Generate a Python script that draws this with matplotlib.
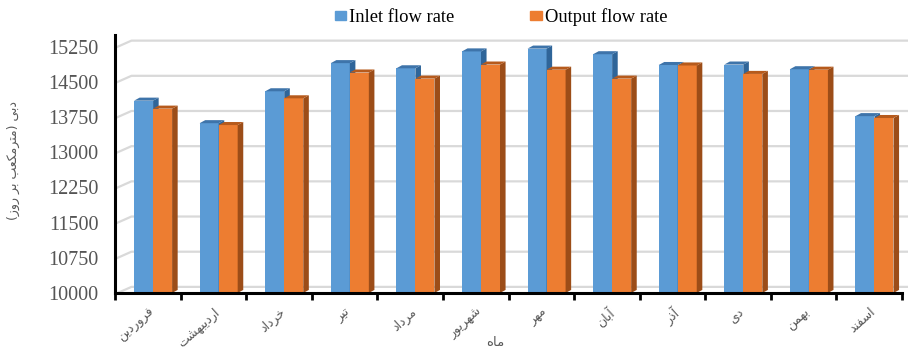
import numpy as np
import matplotlib.pyplot as plt
from matplotlib.patches import Polygon, Patch
from matplotlib.transforms import ScaledTranslation

# monthly flow (m3/day), Persian calendar months
months = ['فروردین', 'اردیبهشت', 'خرداد', 'تیر', 'مرداد', 'شهریور',
          'مهر', 'آبان', 'آذر', 'دی', 'بهمن', 'اسفند']
inlet = [14100, 13620, 14300, 14900, 14790, 15150, 15210, 15090, 14860, 14870, 14770, 13770]
output = [13930, 13580, 14150, 14700, 14570, 14870, 14760, 14570, 14850, 14670, 14760, 13730]
yticks = np.arange(10000, 15251, 750)
ylabel = 'دبی (مترمکعب بر روز)'
xlabel = 'ماه'

# contextual forms for the letters used (isolated, final[, initial, medial])
FORMS = {
    'ا': '\uFE8D\uFE8E', 'آ': '\uFE81\uFE82', 'د': '\uFEA9\uFEAA', 'ذ': '\uFEAB\uFEAC',
    'ر': '\uFEAD\uFEAE', 'ز': '\uFEAF\uFEB0', 'و': '\uFEED\uFEEE',
    'ب': '\uFE8F\uFE90\uFE91\uFE92', 'ت': '\uFE95\uFE96\uFE97\uFE98',
    'خ': '\uFEA5\uFEA6\uFEA7\uFEA8', 'س': '\uFEB1\uFEB2\uFEB3\uFEB4',
    'ش': '\uFEB5\uFEB6\uFEB7\uFEB8', 'ع': '\uFEC9\uFECA\uFECB\uFECC',
    'ف': '\uFED1\uFED2\uFED3\uFED4', 'م': '\uFEE1\uFEE2\uFEE3\uFEE4',
    'ن': '\uFEE5\uFEE6\uFEE7\uFEE8', 'ه': '\uFEE9\uFEEA\uFEEB\uFEEC',
    'ی': '\uFBFC\uFBFD\uFBFE\uFBFF', 'ک': '\uFB8E\uFB8F\uFB90\uFB91',
}


def shape(text):
    # join letters and lay the string out right-to-left
    out = []
    for i, ch in enumerate(text):
        f = FORMS.get(ch)
        if f is None:
            out.append({'(': ')', ')': '('}.get(ch, ch))
            continue
        prev = text[i - 1] if i > 0 else ''
        nxt = text[i + 1] if i + 1 < len(text) else ''
        jp = len(FORMS.get(prev, '')) == 4
        jn = len(f) == 4 and nxt in FORMS
        out.append(f[[[0, 2], [1, 3]][jp][jn]])
    return ''.join(reversed(out))


BASE = 10000
DX, DY = 0.085, 65     # depth offset of the 3d faces
W = 0.29

fig = plt.figure(figsize=(9.08, 3.49), dpi=100)
ax = fig.add_axes([0.1267, 0.1605, 0.8667, 0.7392])
ax.set_xlim(-0.5, 11.5)
ax.set_ylim(BASE, 15500)

# back wall gridlines with the slanted part on the side wall
for v in yticks:
    ax.plot([-0.46, -0.25, 11.6], [v, v + 130, v + 130], color='#d9d9d9',
            lw=1.6, zorder=0.5, clip_on=False)

x = np.arange(len(months))


def bars3d(xpos, vals, front, side, top):
    rects = ax.bar(xpos, np.array(vals) - BASE, bottom=BASE, width=W, align='edge',
                   color=front, zorder=1)
    for r in rects:
        x0, w, h = r.get_x(), r.get_width(), r.get_y() + r.get_height()
        ax.add_patch(Polygon([(x0 + w, BASE), (x0 + w + DX, BASE + DY),
                              (x0 + w + DX, h + DY), (x0 + w, h)],
                             closed=True, fc=side, ec='none', zorder=1))
        ax.add_patch(Polygon([(x0, h), (x0 + DX, h + DY), (x0 + w + DX, h + DY),
                              (x0 + w, h)], closed=True, fc=top, ec='none', zorder=1))


bars3d(x - 0.21, inlet, '#5b9bd5', '#2f6599', '#3e74aa')
bars3d(x + 0.08, output, '#ed7d31', '#9c4d18', '#b65a1c')

for s in ['top', 'right']:
    ax.spines[s].set_visible(False)
for s in ['left', 'bottom']:
    ax.spines[s].set_linewidth(2.2)
    ax.spines[s].set_color('black')

ax.set_yticks(yticks)
ax.set_yticklabels([str(v) for v in yticks], fontfamily='Liberation Serif',
                   fontsize=14.5, color='#555555')
ax.tick_params(axis='y', length=0, pad=12)

ax.set_xticks(x)
ax.set_xticklabels([shape(m) for m in months], rotation=42, ha='right', va='top',
                   rotation_mode='anchor', fontfamily='DejaVu Sans', fontsize=9,
                   color='#595959')
shift = ScaledTranslation(-0.07, 0, fig.dpi_scale_trans)
for lab in ax.get_xticklabels():
    lab.set_transform(lab.get_transform() + shift)
ax.tick_params(axis='x', which='major', length=0, pad=9)
ax.set_xticks(np.arange(-0.5, 12, 1), minor=True)
ax.tick_params(axis='x', which='minor', length=5, width=2, color='black', direction='out')

fig.text(0.015, 0.54, shape(ylabel), rotation=90, ha='center', va='center',
         fontfamily='DejaVu Sans', fontsize=9, color='#595959')
fig.text(0.545, 0.02, shape(xlabel), ha='center', va='center',
         fontfamily='DejaVu Sans', fontsize=9.5, color='#595959')

handles = [Patch(color='#5b9bd5', label='Inlet flow rate'),
           Patch(color='#ed7d31', label='Output flow rate')]
fig.legend(handles=handles, loc='center', bbox_to_anchor=(0.552, 0.951), ncol=2,
           frameon=False, handlelength=0.6, handleheight=0.4, handletextpad=0.2,
           columnspacing=4.1, prop={'family': 'Liberation Serif', 'size': 13.3})

fig.savefig('out.png', dpi=100)
